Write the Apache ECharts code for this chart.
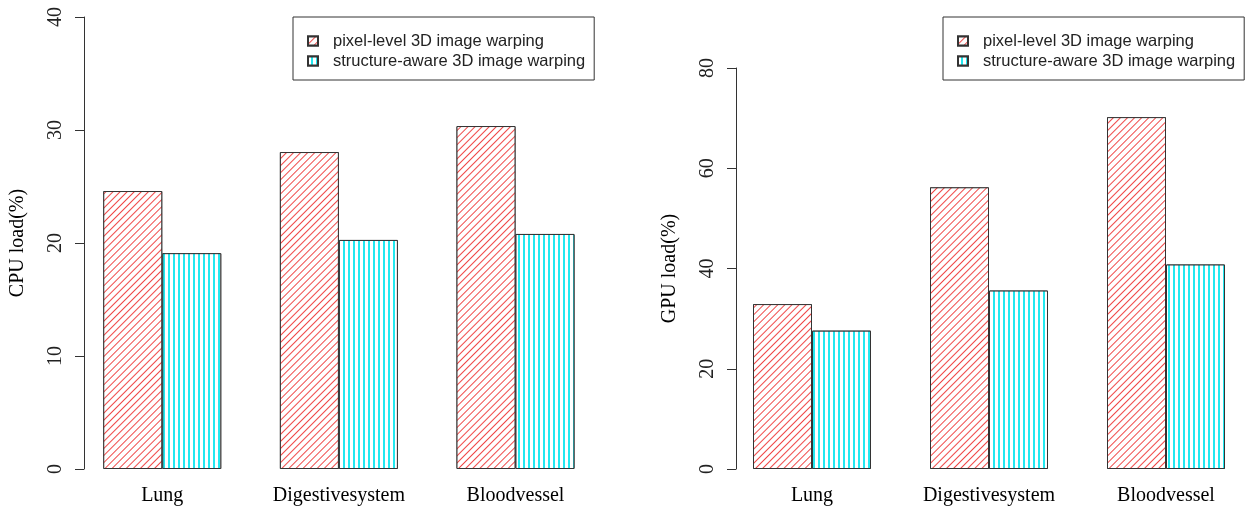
<!DOCTYPE html>
<html>
<head>
<meta charset="utf-8">
<script src="https://cdn.jsdelivr.net/npm/echarts@6/dist/echarts.min.js"></script>
<style>html,body{margin:0;padding:0;background:#fff}#c{width:1246px;height:509px}</style>
</head>
<body>
<div id="c"></div>
<script>
const categories = ['Lung', 'Digestivesystem', 'Bloodvessel'];
const seriesNames = ['pixel-level 3D image warping', 'structure-aware 3D image warping'];
const cpuPixel = [24.6, 28.05, 30.35];
const cpuStructure = [19.1, 20.27, 20.8];
const gpuPixel = [32.9, 56.2, 70.2];
const gpuStructure = [27.6, 35.6, 40.8];
const cpuTicks = { min: 0, max: 40, interval: 10 };
const gpuTicks = { min: 0, max: 80, interval: 20 };

const redDecal = {
  symbol: 'rect', symbolSize: 1, color: '#f04848', backgroundColor: '#ffffff',
  dashArrayX: [1, 0], dashArrayY: [1, 3.2], rotation: -Math.PI / 4
};
const cyanDecal = {
  symbol: 'rect', symbolSize: 1, color: '#22e8f0', backgroundColor: '#ffffff',
  dashArrayX: [1, 0], dashArrayY: [1.4, 2.9], rotation: Math.PI / 2
};
const serif = 'Liberation Serif';
const sans = 'Liberation Sans';

function yAxis(gi, t, name, offset) {
  return {
    type: 'value', gridIndex: gi, min: t.min, max: t.max, interval: t.interval,
    offset: offset,
    name: name, nameLocation: 'middle', nameGap: 56, nameRotate: 90,
    nameTextStyle: { fontFamily: serif, fontSize: 20, color: '#000' },
    axisLine: { show: true, lineStyle: { color: '#333', width: 1 } },
    axisTick: { show: true, length: 9, lineStyle: { color: '#333' } },
    axisLabel: { rotate: 90, margin: 18, fontFamily: serif, fontSize: 20, color: '#222' },
    splitLine: { show: false }
  };
}
function xAxis(gi) {
  return {
    type: 'category', gridIndex: gi, data: categories, boundaryGap: false,
    axisLine: { show: false }, axisTick: { show: false },
    axisLabel: { margin: 17, fontFamily: serif, fontSize: 20, color: '#000' }
  };
}
function bar(name, data, gi, decal) {
  return {
    type: 'bar', name: name, xAxisIndex: gi, yAxisIndex: gi, data: data,
    barWidth: 59, barGap: '0%',
    itemStyle: { color: '#ffffff', borderColor: '#333', borderWidth: 1, decal: decal },
    emphasis: { disabled: true }
  };
}
function legend(left) {
  return {
    left: left, top: 17, orient: 'vertical',
    data: seriesNames.map(n => ({ name: n, icon: 'rect' })),
    borderColor: '#333', borderWidth: 1,
    padding: [15, 9, 10, 14],
    itemWidth: 10, itemHeight: 9, itemGap: 2,
    textStyle: { fontFamily: sans, fontSize: 16.5, lineHeight: 18, color: '#222', padding: [0, 0, 0, 10] }
  };
}

const chart = echarts.init(document.getElementById('c'), null, { renderer: 'canvas' });
chart.setOption({
  animation: false,
  backgroundColor: '#ffffff',
  grid: [
    { left: 162.25, top: 17, width: 353.25, height: 452 },
    { left: 812, top: 68, width: 354, height: 401 }
  ],
  legend: [legend(293), legend(943)],
  xAxis: [xAxis(0), xAxis(1)],
  yAxis: [yAxis(0, cpuTicks, 'CPU load(%)', 78.25), yAxis(1, gpuTicks, 'GPU load(%)', 76)],
  series: [
    bar(seriesNames[0], cpuPixel, 0, redDecal),
    bar(seriesNames[1], cpuStructure, 0, cyanDecal),
    bar(seriesNames[0], gpuPixel, 1, redDecal),
    bar(seriesNames[1], gpuStructure, 1, cyanDecal)
  ]
});
</script>
</body>
</html>
